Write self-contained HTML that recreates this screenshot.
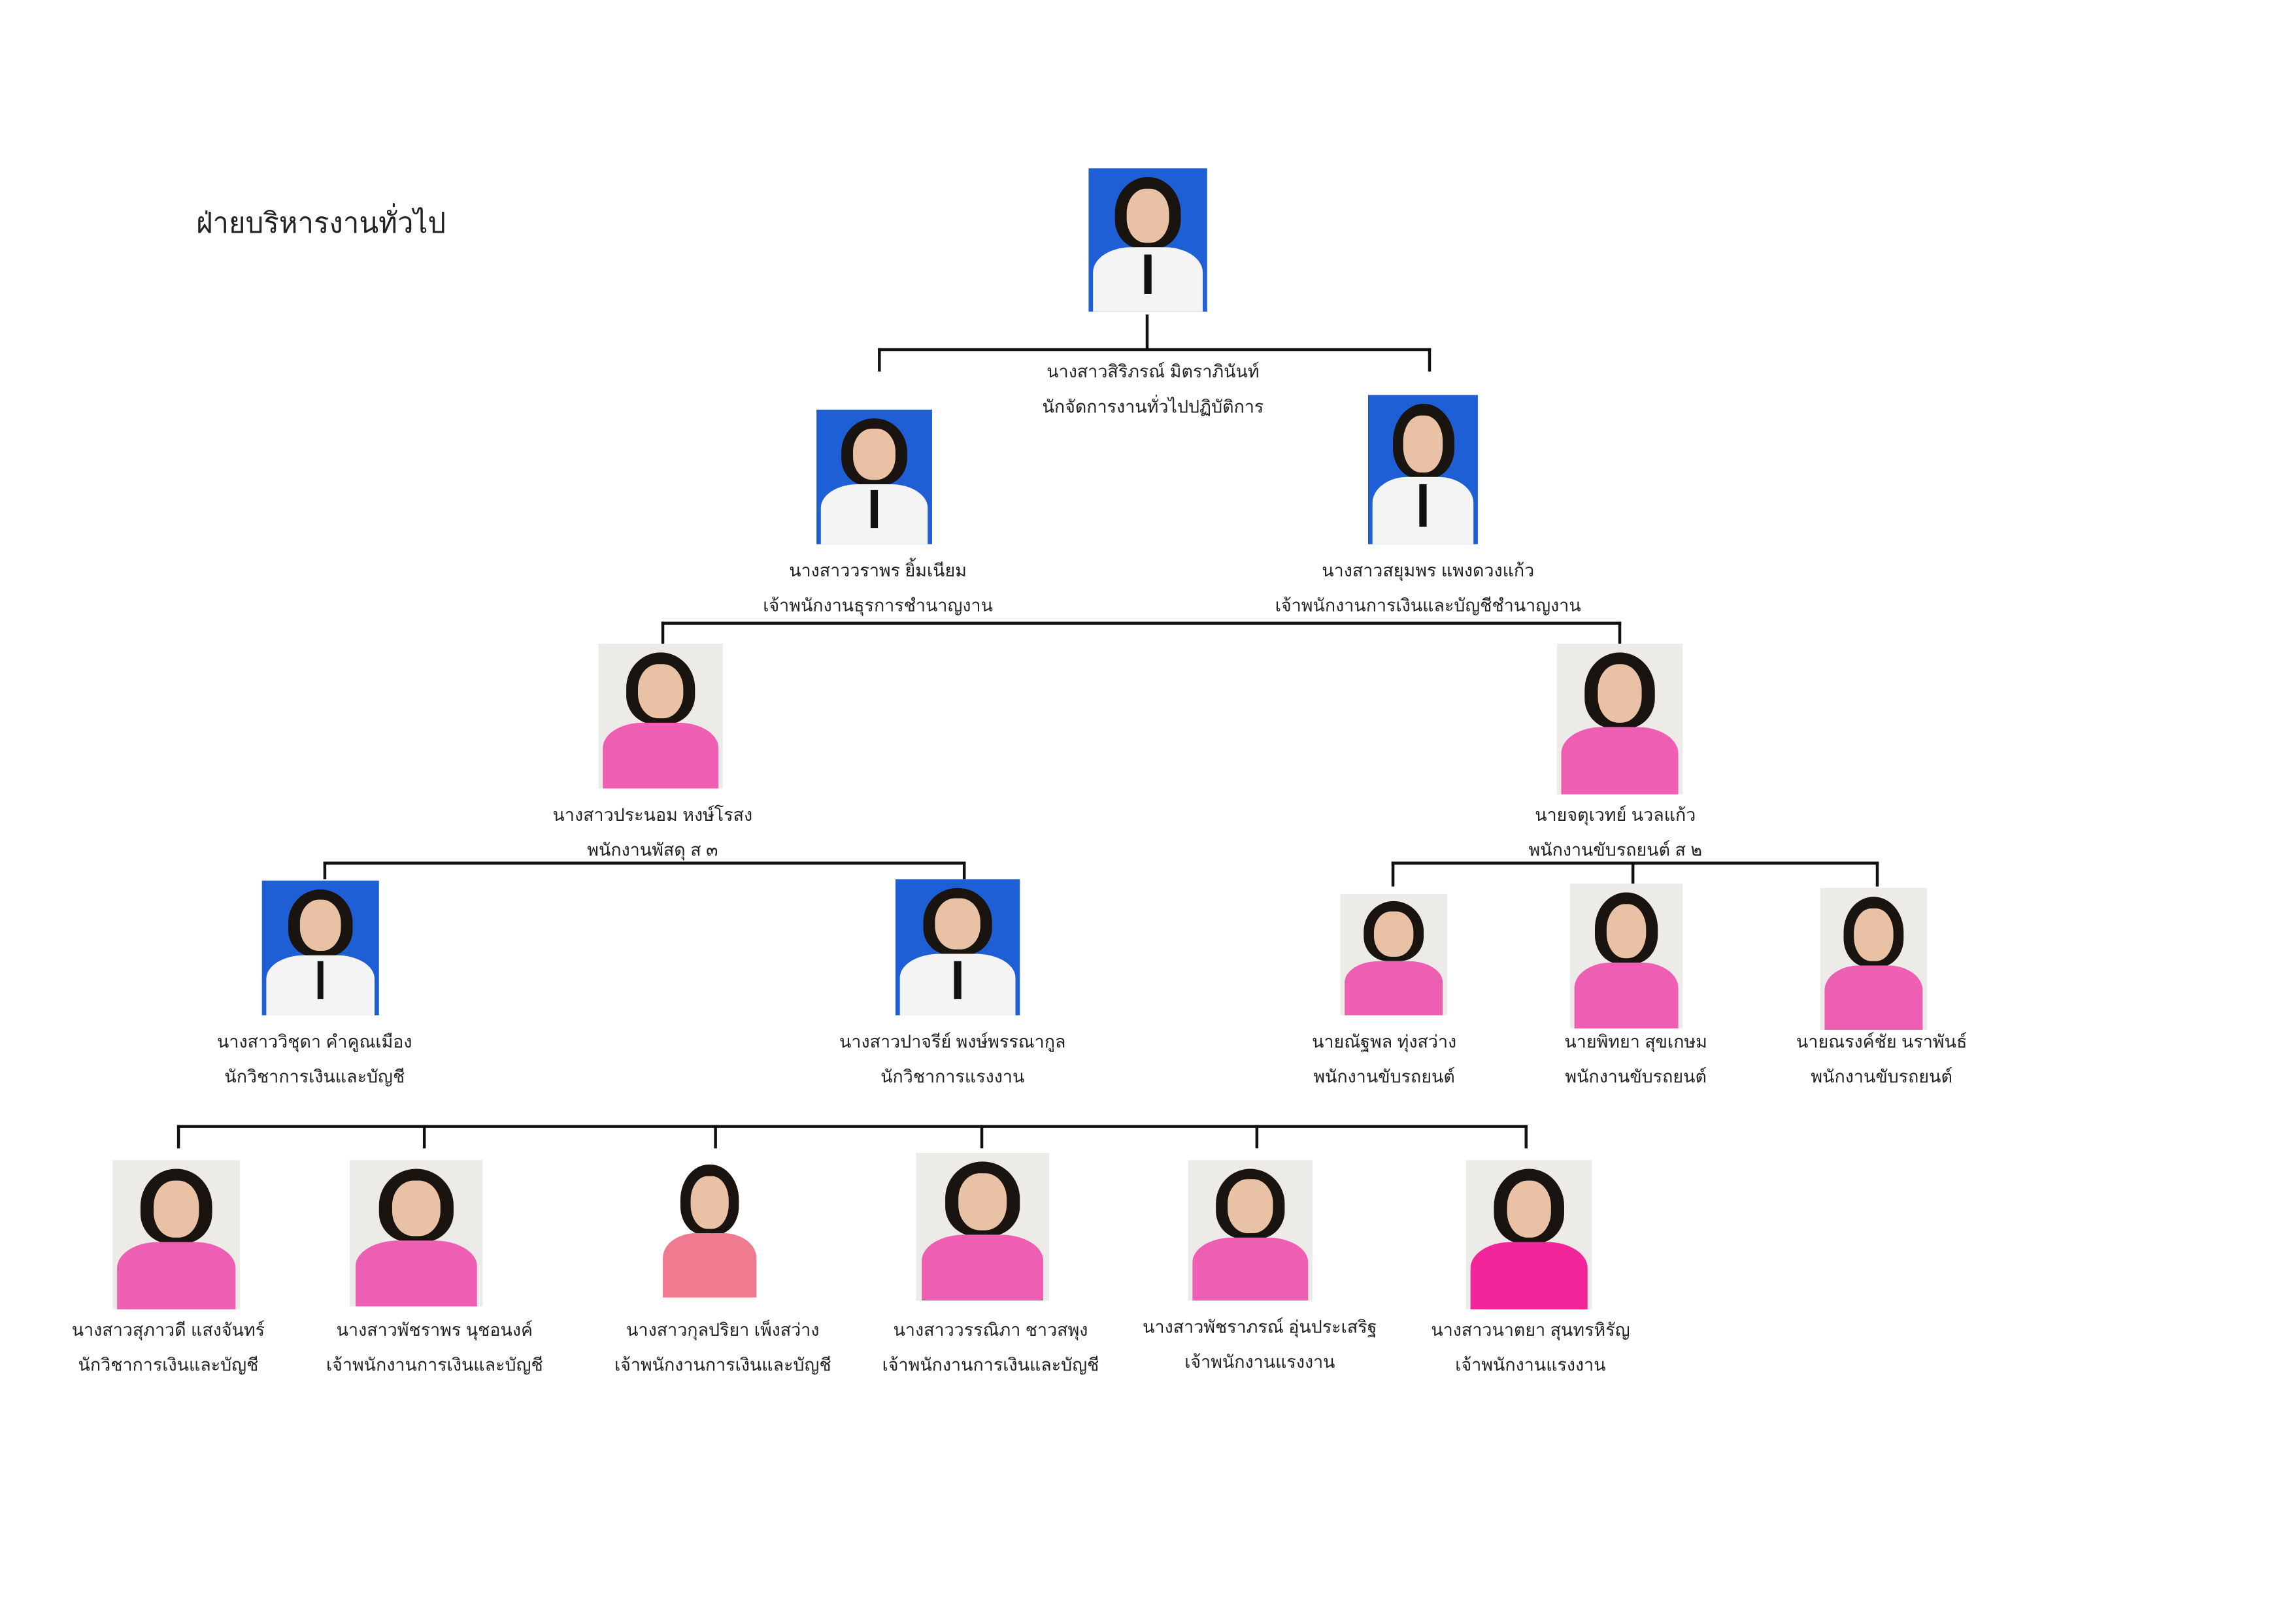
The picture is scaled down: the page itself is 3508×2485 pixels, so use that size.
<!DOCTYPE html>
<html><head><meta charset="utf-8">
<style>
html,body{margin:0;padding:0;background:#fff;}
body{width:3508px;height:2481px;overflow:hidden;position:relative;}
#w{position:absolute;left:0;top:0;width:1570px;height:1110px;transform:scale(2.2385);transform-origin:0 0;font-family:"Liberation Sans","DejaVu Sans",sans-serif;color:#222;}
.l{position:absolute;background:#111;}
.p{position:absolute;overflow:hidden;}
.p .h{position:absolute;left:22%;top:6%;width:56%;height:50%;border-radius:50% 50% 40% 40%;background:#1a1410;}
.p .f{position:absolute;left:32%;top:14%;width:36%;height:38%;border-radius:45%;background:#e9c2a6;}
.p .b{position:absolute;left:4%;top:55%;width:92%;height:50%;border-radius:35% 35% 0 0;}
.blue{background:#1f5fd6;}
.blue .b{background:#f4f4f4;}
.blue .t{position:absolute;left:47%;top:60%;width:6%;height:28%;background:#111;}
.pk{background:#ecebe8;}
.pk .b{background:#ee5fb3;}
.t2{position:absolute;font-size:12px;text-align:center;white-space:nowrap;line-height:24px;transform:translateX(-50%);}
</style></head><body><div id="w">
<div style="position:absolute;left:134px;top:137px;font-size:19.5px;">ฝ่ายบริหารงานทั่วไป</div>

<div class="l" style="left:783px;top:215px;width:1.5px;height:24px"></div>
<div class="l" style="left:600px;top:238px;width:378px;height:1.5px"></div>
<div class="l" style="left:600px;top:238px;width:1.5px;height:16px"></div>
<div class="l" style="left:976px;top:238px;width:1.5px;height:16px"></div>

<div class="l" style="left:452px;top:425px;width:656px;height:1.5px"></div>
<div class="l" style="left:452px;top:425px;width:1.5px;height:15px"></div>
<div class="l" style="left:1106px;top:425px;width:1.5px;height:15px"></div>

<div class="l" style="left:221px;top:589px;width:439px;height:1.5px"></div>
<div class="l" style="left:221px;top:589px;width:1.5px;height:12px"></div>
<div class="l" style="left:658px;top:589px;width:1.5px;height:12px"></div>

<div class="l" style="left:951px;top:589px;width:333px;height:1.5px"></div>
<div class="l" style="left:951px;top:589px;width:1.5px;height:17px"></div>
<div class="l" style="left:1115px;top:589px;width:1.5px;height:15px"></div>
<div class="l" style="left:1282px;top:589px;width:1.5px;height:17px"></div>

<div class="l" style="left:121px;top:769px;width:923px;height:1.5px"></div>
<div class="l" style="left:121px;top:769px;width:1.5px;height:16px"></div>
<div class="l" style="left:289px;top:769px;width:1.5px;height:16px"></div>
<div class="l" style="left:488px;top:769px;width:1.5px;height:16px"></div>
<div class="l" style="left:670px;top:769px;width:1.5px;height:16px"></div>
<div class="l" style="left:858px;top:769px;width:1.5px;height:16px"></div>
<div class="l" style="left:1042px;top:769px;width:1.5px;height:16px"></div>

<div class="p blue" style="left:744px;top:115px;width:81px;height:98px"><div class="h"></div><div class="f"></div><div class="b"></div><div class="t"></div></div>
<div class="p blue" style="left:558px;top:280px;width:79px;height:92px"><div class="h"></div><div class="f"></div><div class="b"></div><div class="t"></div></div>
<div class="p blue" style="left:935px;top:270px;width:75px;height:102px"><div class="h"></div><div class="f"></div><div class="b"></div><div class="t"></div></div>
<div class="p pk" style="left:409px;top:440px;width:85px;height:99px"><div class="h"></div><div class="f"></div><div class="b"></div></div>
<div class="p pk" style="left:1064px;top:440px;width:86px;height:103px"><div class="h"></div><div class="f"></div><div class="b"></div></div>
<div class="p blue" style="left:179px;top:602px;width:80px;height:92px"><div class="h"></div><div class="f"></div><div class="b"></div><div class="t"></div></div>
<div class="p blue" style="left:612px;top:601px;width:85px;height:93px"><div class="h"></div><div class="f"></div><div class="b"></div><div class="t"></div></div>
<div class="p pk" style="left:916px;top:611px;width:73px;height:83px"><div class="h"></div><div class="f"></div><div class="b"></div></div>
<div class="p pk" style="left:1073px;top:604px;width:77px;height:99px"><div class="h"></div><div class="f"></div><div class="b"></div></div>
<div class="p pk" style="left:1244px;top:607px;width:73px;height:97px"><div class="h"></div><div class="f"></div><div class="b"></div></div>

<div class="p pk" style="left:77px;top:793px;width:87px;height:102px"><div class="h"></div><div class="f"></div><div class="b"></div></div>
<div class="p pk" style="left:239px;top:793px;width:91px;height:100px"><div class="h"></div><div class="f"></div><div class="b"></div></div>
<div class="p pk" style="left:450px;top:790px;width:70px;height:97px;background:#fff"><div class="h"></div><div class="f"></div><div class="b" style="background:#f07a90"></div></div>
<div class="p pk" style="left:626px;top:788px;width:91px;height:101px"><div class="h"></div><div class="f"></div><div class="b"></div></div>
<div class="p pk" style="left:812px;top:793px;width:85px;height:96px"><div class="h"></div><div class="f"></div><div class="b"></div></div>
<div class="p pk" style="left:1002px;top:793px;width:86px;height:102px"><div class="h"></div><div class="f"></div><div class="b" style="background:#f2259a"></div></div>

<div class="t2" style="left:788px;top:242px">นางสาวสิริภรณ์ มิตราภินันท์<br>นักจัดการงานทั่วไปปฏิบัติการ</div>
<div class="t2" style="left:600px;top:378px">นางสาววราพร ยิ้มเนียม<br>เจ้าพนักงานธุรการชำนาญงาน</div>
<div class="t2" style="left:976px;top:378px">นางสาวสยุมพร แพงดวงแก้ว<br>เจ้าพนักงานการเงินและบัญชีชำนาญงาน</div>
<div class="t2" style="left:446px;top:545px">นางสาวประนอม หงษ์โรสง<br>พนักงานพัสดุ ส ๓</div>
<div class="t2" style="left:1104px;top:545px">นายจตุเวทย์ นวลแก้ว<br>พนักงานขับรถยนต์ ส ๒</div>
<div class="t2" style="left:215px;top:700px">นางสาววิชุดา คำคูณเมือง<br>นักวิชาการเงินและบัญชี</div>
<div class="t2" style="left:651px;top:700px">นางสาวปาจรีย์ พงษ์พรรณากูล<br>นักวิชาการแรงงาน</div>
<div class="t2" style="left:946px;top:700px">นายณัฐพล ทุ่งสว่าง<br>พนักงานขับรถยนต์</div>
<div class="t2" style="left:1118px;top:700px">นายพิทยา สุขเกษม<br>พนักงานขับรถยนต์</div>
<div class="t2" style="left:1286px;top:700px">นายณรงค์ชัย นราพันธ์<br>พนักงานขับรถยนต์</div>
<div class="t2" style="left:115px;top:897px">นางสาวสุภาวดี แสงจันทร์<br>นักวิชาการเงินและบัญชี</div>
<div class="t2" style="left:297px;top:897px">นางสาวพัชราพร นุชอนงค์<br>เจ้าพนักงานการเงินและบัญชี</div>
<div class="t2" style="left:494px;top:897px">นางสาวกุลปริยา เพ็งสว่าง<br>เจ้าพนักงานการเงินและบัญชี</div>
<div class="t2" style="left:677px;top:897px">นางสาววรรณิภา ชาวสพุง<br>เจ้าพนักงานการเงินและบัญชี</div>
<div class="t2" style="left:861px;top:895px">นางสาวพัชราภรณ์ อุ่นประเสริฐ<br>เจ้าพนักงานแรงงาน</div>
<div class="t2" style="left:1046px;top:897px">นางสาวนาตยา สุนทรหิรัญ<br>เจ้าพนักงานแรงงาน</div>
</div></body></html>
